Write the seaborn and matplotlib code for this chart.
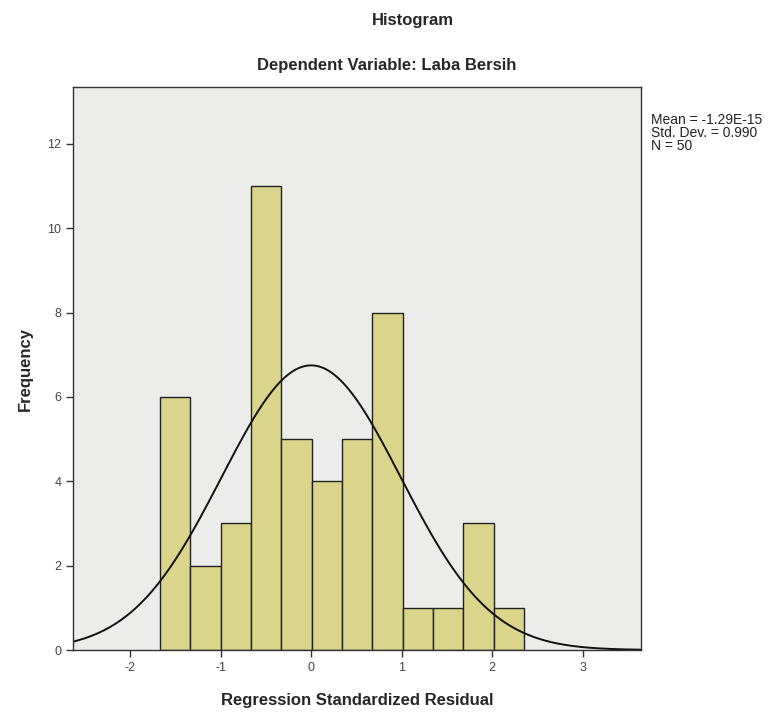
import numpy as np
import pandas as pd
import matplotlib
matplotlib.use('Agg')
import matplotlib.pyplot as plt
import seaborn as sns

# Histogram counts (12 bins)
bin_start = -1.67
bin_width = 0.335
counts = [6, 2, 3, 11, 5, 4, 5, 8, 1, 1, 3, 1]

# Summary stats shown in the side box
mean_val = -1.29e-15
std_val = 0.990
n_obs = 50

x_ticks = [-2, -1, 0, 1, 2, 3]
y_ticks = [0, 2, 4, 6, 8, 10, 12]

edges = [bin_start + bin_width * i for i in range(len(counts) + 1)]
centers = [(edges[i] + edges[i + 1]) / 2 for i in range(len(counts))]
df = pd.DataFrame({'resid': centers, 'count': counts})

sns.set_style('white')
plt.rcParams['font.family'] = ['Liberation Sans', 'DejaVu Sans']
plt.rcParams['axes.unicode_minus'] = False

fig = plt.figure(figsize=(7.71, 7.22), dpi=100)
ax = fig.add_axes([0.0947, 0.0997, 0.7363, 0.7798])
ax.set_facecolor('#ECECEA')

sns.histplot(data=df, x='resid', weights='count', bins=edges, ax=ax,
             color='#DAD58A', alpha=1, edgecolor='#222222', linewidth=1.0)

# Normal curve scaled to counts
xs = np.linspace(-2.7, 3.7, 400)
pdf = np.exp(-0.5 * ((xs - mean_val) / std_val) ** 2) / (std_val * np.sqrt(2 * np.pi))
sns.lineplot(x=xs, y=pdf * n_obs * bin_width, ax=ax, color='#111111', linewidth=1.4)

ax.set_xlim(-2.63, 3.64)
ax.set_ylim(0, 13.35)
ax.set_xticks(x_ticks)
ax.set_yticks(y_ticks)
ax.tick_params(axis='both', direction='out', length=5, width=1, color='#333333',
               labelsize=9, labelcolor='#444444', bottom=True, left=True)
for s in ax.spines.values():
    s.set_color('#333333')
    s.set_linewidth(1.0)

ax.set_xlabel('Regression Standardized Residual', fontsize=12, fontweight='bold', labelpad=14)
ax.set_ylabel('Frequency', fontsize=12, fontweight='bold', labelpad=10)

fig.text(0.535, 0.972, 'Histogram', ha='center', va='center', fontsize=12, fontweight='bold')
fig.text(0.502, 0.909, 'Dependent Variable: Laba Bersih', ha='center', va='center',
         fontsize=12, fontweight='bold')
fig.text(0.845, 0.843, 'Mean = -1.29E-15\nStd. Dev. = 0.990\nN = 50', ha='left', va='top',
         fontsize=10, color='#222222', linespacing=0.9)

fig.savefig('out.png', dpi=100)
